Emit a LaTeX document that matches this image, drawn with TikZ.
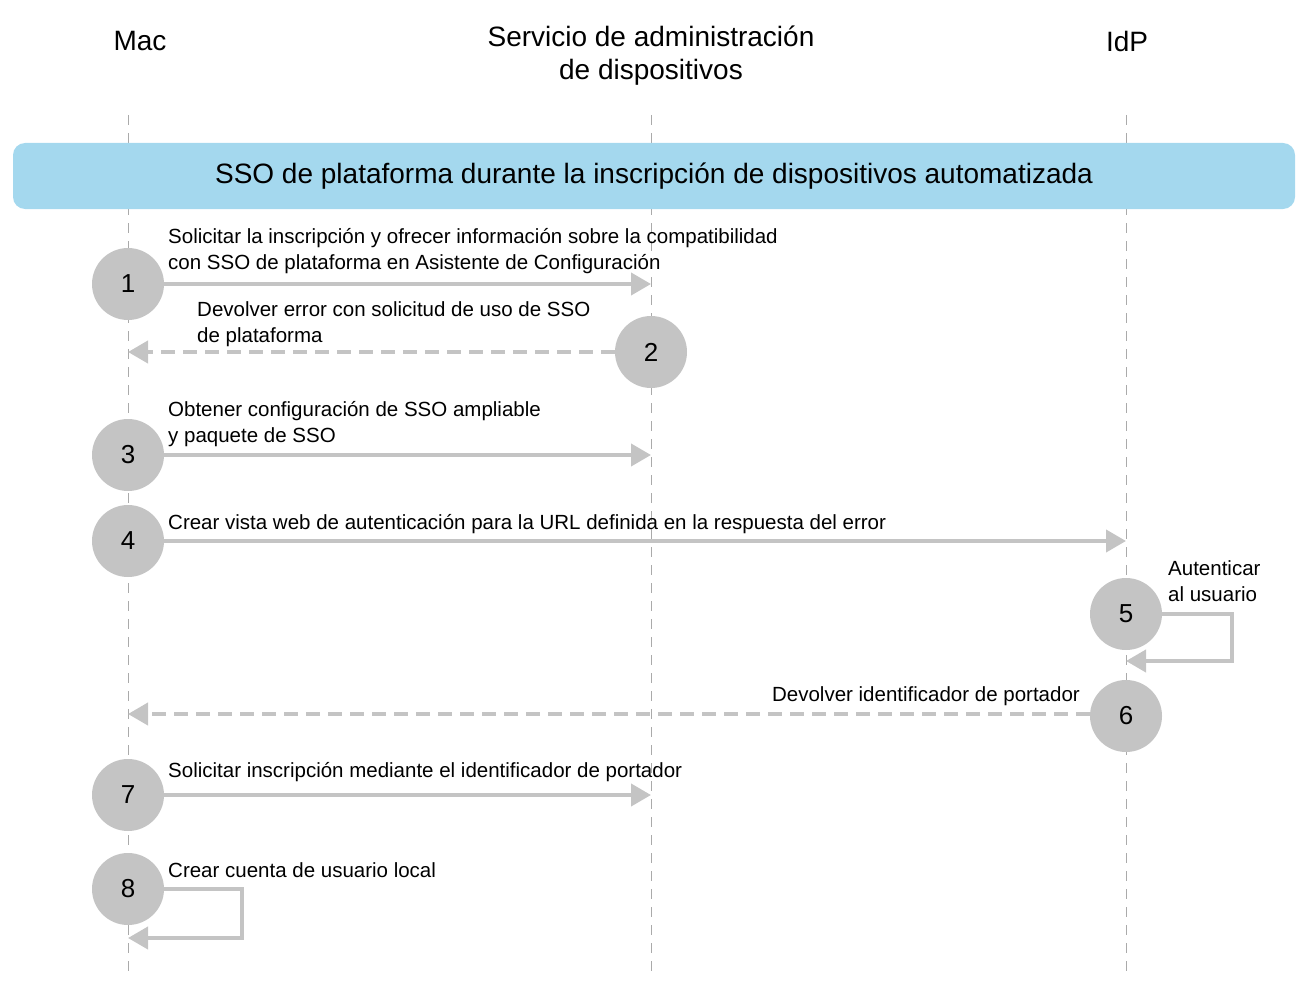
\documentclass[tikz,border=0pt]{standalone}
\usepackage{fontspec}
\setmainfont{Liberation Sans}
\usetikzlibrary{arrows.meta,positioning}
\definecolor{stepgray}{RGB}{196,196,196}
\definecolor{bannerblue}{RGB}{164,216,238}
\definecolor{lifegray}{RGB}{170,170,170}
\begin{document}
\begin{tikzpicture}[x=1pt,y=-1pt,
        stepnum/.style={circle, fill=stepgray, minimum size=72pt, inner sep=0pt, font=\fontsize{26}{26}\selectfont},
        msg/.style={anchor=north west, inner sep=0pt, align=left, font=\fontsize{20.5}{26}\selectfont},
        head/.style={align=center, font=\fontsize{28}{33}\selectfont},
        arrow/.style={-{Triangle[length=20pt,width=22pt]}, line width=4pt, draw=stepgray},
        darrow/.style={arrow, dash pattern=on 14pt off 8pt},
        lifeline/.style={draw=lifegray, line width=1pt, dash pattern=on 10pt off 8pt}
    ]
        \useasboundingbox (0,0) rectangle (1303,987);

        % Headers
        \node[head] (mac) at (140,41) {Mac};
        \node[head] (mdm) at (651,56) {Servicio de administración\\de dispositivos};
        \node[head] (idp) at (1127,41) {IdP};

        % Lifelines
        \coordinate (mactop) at (128,115);
        \coordinate (macbot) at (128,975);
        \coordinate (mdmtop) at (651,115);
        \coordinate (mdmbot) at (651,975);
        \coordinate (idptop) at (1126,115);
        \coordinate (idpbot) at (1126,975);
        \draw[lifeline] (mactop) -- (macbot);
        \draw[lifeline] (mdmtop) -- (mdmbot);
        \draw[lifeline] (idptop) -- (idpbot);

        % Banner
        \node[fill=bannerblue, rounded corners=12pt, minimum width=1282pt, minimum height=66pt,
              font=\fontsize{28}{28}\selectfont] (banner) at (654,176)
            {SSO de plataforma durante la inscripción de dispositivos automatizada};

        % Step markers
        \node[stepnum] (s1) at (128,284) {1};
        \node[stepnum] (s2) at (651,352) {2};
        \node[stepnum] (s3) at (128,455) {3};
        \node[stepnum] (s4) at (128,541) {4};
        \node[stepnum] (s5) at (1126,614) {5};
        \node[stepnum] (s6) at (1126,716) {6};
        \node[stepnum] (s7) at (128,795) {7};
        \node[stepnum] (s8) at (128,889) {8};

        % Arrow end points
        \coordinate (e1) at (651,284);
        \coordinate (e2) at (128,352);
        \coordinate (e3) at (651,455);
        \coordinate (e4) at (1126,541);
        \coordinate (e5) at (1126,661);
        \coordinate (e6) at (128,714);
        \coordinate (e7) at (651,795);
        \coordinate (e8) at (128,938);

        % Arrows
        \draw[arrow] (s1) -- (e1);
        \draw[darrow] (s2) -- (e2);
        \draw[arrow] (s3) -- (e3);
        \draw[arrow] (s4) -- (e4);
        \draw[arrow] (s5.east) -- (1232,614) -- (1232,661) -- (e5);
        \draw[darrow] (s6.west |- e6) -- (e6);
        \draw[arrow] (s7) -- (e7);
        \draw[arrow] (s8.east) -- (242,889) -- (242,938) -- (e8);

        % Labels
        \node[msg] (t1) at (168,228) {Solicitar la inscripción y ofrecer información sobre la compatibilidad\\con SSO de plataforma en Asistente de Configuración};
        \node[msg] (t2) at (197,301) {Devolver error con solicitud de uso de SSO\\de plataforma};
        \node[msg] (t3) at (168,401) {Obtener configuración de SSO ampliable\\y paquete de SSO};
        \node[msg] (t4) at (168,514) {Crear vista web de autenticación para la URL definida en la respuesta del error};
        \node[msg] (t5) at (1168,560) {Autenticar\\al usuario};
        \node[msg, anchor=north east] (t6) at (1080,686) {Devolver identificador de portador};
        \node[msg] (t7) at (168,762) {Solicitar inscripción mediante el identificador de portador};
        \node[msg] (t8) at (168,862) {Crear cuenta de usuario local};
    \end{tikzpicture}
\end{document}
